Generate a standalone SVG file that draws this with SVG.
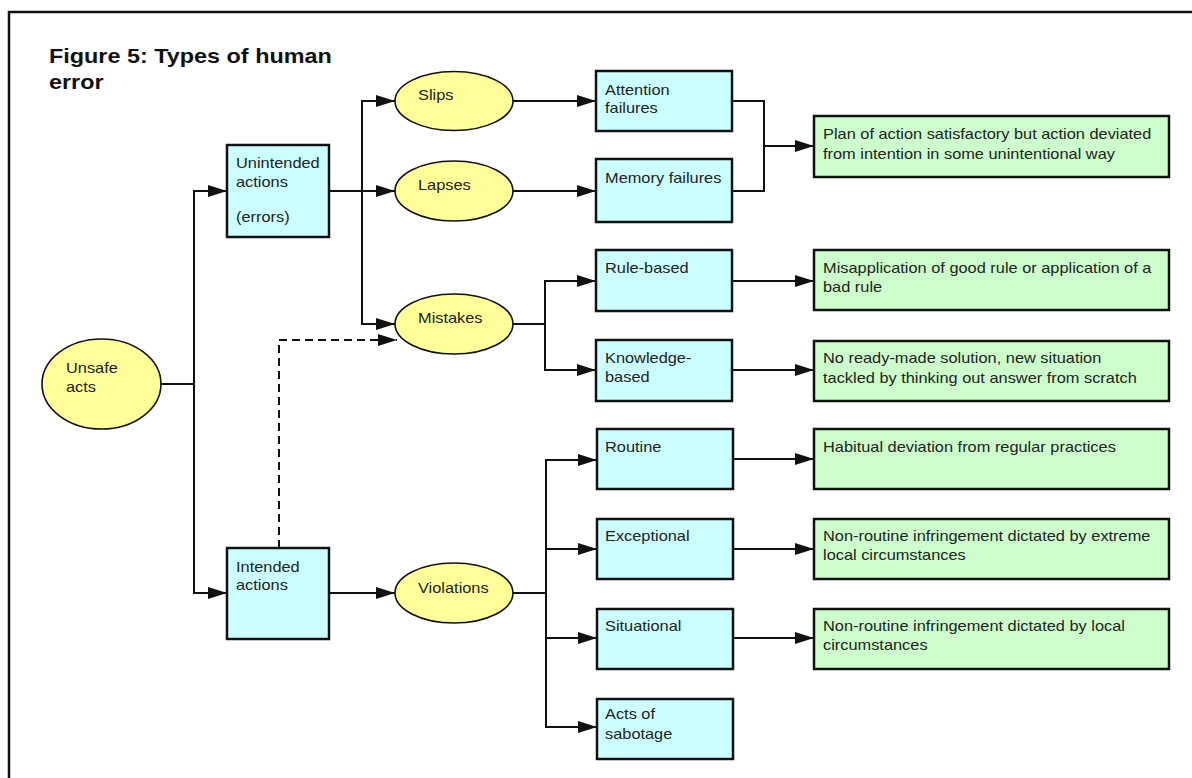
<svg xmlns="http://www.w3.org/2000/svg" width="1192" height="778" viewBox="0 0 1192 778">
  <style>
    .frame { fill: none; stroke: #111; stroke-width: 2.5; }
    .box { stroke: #111; stroke-width: 2.5; }
    .blue { fill: #ccffff; }
    .green { fill: #ccffcc; }
    .oval { fill: #ffff99; stroke: #111; stroke-width: 1.6; }
    .lbl { font-family: "Liberation Sans", Arial, sans-serif; font-size: 14px; fill: #222; }
    .title { font-family: "Liberation Sans", Arial, sans-serif; font-size: 20px; font-weight: bold; fill: #111; }
    .wire { fill: none; stroke: #111; stroke-width: 2; }
    .arrow { marker-end: url(#head); }
    .dash { stroke-dasharray: 8 5; }
  </style>
  <defs>
    <marker id="head" markerUnits="userSpaceOnUse" markerWidth="19" markerHeight="12" refX="19" refY="6" orient="auto">
      <path d="M0,0 L19,6 L0,12 z" fill="#111"/>
    </marker>
  </defs>

  <rect width="1192" height="778" fill="#ffffff"/>
  <!-- page frame (top and left rules) -->
  <path class="frame" d="M9,778 V12 H1192"/>

  <g id="title">
    <text class="title" transform="matrix(1.17 0 0 1 49 63)">Figure 5: Types of human</text>
    <text class="title" transform="matrix(1.17 0 0 1 49 89)">error</text>
  </g>

  <g id="connectors">
    <path class="wire" d="M161,384 H194"/>
    <path class="wire arrow" d="M194,384 V191 H227"/>
    <path class="wire arrow" d="M194,384 V593 H227"/>
    <path class="wire arrow" d="M329,191 H395"/>
    <path class="wire arrow" d="M362,191 V101 H395"/>
    <path class="wire arrow" d="M362,191 V324 H395"/>
    <path class="wire dash arrow" d="M279,548 V340 H397"/>
    <path class="wire arrow" d="M513,101 H596"/>
    <path class="wire arrow" d="M513,191 H596"/>
    <path class="wire" d="M732,101 H764 V191 H732"/>
    <path class="wire arrow" d="M764,146 H814"/>
    <path class="wire" d="M513,324 H545"/>
    <path class="wire arrow" d="M545,324 V281 H596"/>
    <path class="wire arrow" d="M545,324 V370 H596"/>
    <path class="wire arrow" d="M732,281 H814"/>
    <path class="wire arrow" d="M732,370 H814"/>
    <path class="wire arrow" d="M329,593 H395"/>
    <path class="wire" d="M513,593 H546"/>
    <path class="wire arrow" d="M546,593 V460 H597"/>
    <path class="wire arrow" d="M546,549 H597"/>
    <path class="wire arrow" d="M546,593 V727 H597"/>
    <path class="wire arrow" d="M546,638 H597"/>
    <path class="wire arrow" d="M733,459 H814"/>
    <path class="wire arrow" d="M733,549 H814"/>
    <path class="wire arrow" d="M733,638 H814"/>
  </g>

  <g id="unsafe-acts">
    <ellipse class="oval" cx="101.5" cy="384" rx="59.5" ry="45"/>
    <text class="lbl" transform="matrix(1.17 0 0 1 66 373)">Unsafe</text>
    <text class="lbl" transform="matrix(1.17 0 0 1 66 392)">acts</text>
  </g>

  <g id="unintended-actions">
    <rect class="box blue" x="227" y="145" width="102" height="92"/>
    <text class="lbl" transform="matrix(1.17 0 0 1 236 168)">Unintended</text>
    <text class="lbl" transform="matrix(1.17 0 0 1 236 187)">actions</text>
    <text class="lbl" transform="matrix(1.17 0 0 1 236 222)">(errors)</text>
  </g>

  <g id="intended-actions">
    <rect class="box blue" x="227" y="548" width="102" height="91"/>
    <text class="lbl" transform="matrix(1.17 0 0 1 236 572)">Intended</text>
    <text class="lbl" transform="matrix(1.17 0 0 1 236 590)">actions</text>
  </g>

  <g id="slips">
    <ellipse class="oval" cx="454" cy="101" rx="59" ry="29.5"/>
    <text class="lbl" transform="matrix(1.17 0 0 1 418 100)">Slips</text>
  </g>

  <g id="lapses">
    <ellipse class="oval" cx="454" cy="191" rx="59" ry="30"/>
    <text class="lbl" transform="matrix(1.17 0 0 1 418 190)">Lapses</text>
  </g>

  <g id="mistakes">
    <ellipse class="oval" cx="454" cy="324" rx="59" ry="30"/>
    <text class="lbl" transform="matrix(1.17 0 0 1 418 323)">Mistakes</text>
  </g>

  <g id="violations">
    <ellipse class="oval" cx="454" cy="593" rx="59" ry="30"/>
    <text class="lbl" transform="matrix(1.17 0 0 1 418 593)">Violations</text>
  </g>

  <g id="attention-failures">
    <rect class="box blue" x="596" y="71" width="136" height="60"/>
    <text class="lbl" transform="matrix(1.17 0 0 1 605 95)">Attention</text>
    <text class="lbl" transform="matrix(1.17 0 0 1 605 113)">failures</text>
  </g>

  <g id="memory-failures">
    <rect class="box blue" x="596" y="159" width="136" height="63"/>
    <text class="lbl" transform="matrix(1.17 0 0 1 605 183)">Memory failures</text>
  </g>

  <g id="rule-based">
    <rect class="box blue" x="596" y="250" width="136" height="61"/>
    <text class="lbl" transform="matrix(1.17 0 0 1 605 273)">Rule-based</text>
  </g>

  <g id="knowledge-based">
    <rect class="box blue" x="596" y="340" width="136" height="61"/>
    <text class="lbl" transform="matrix(1.17 0 0 1 605 363)">Knowledge-</text>
    <text class="lbl" transform="matrix(1.17 0 0 1 605 382)">based</text>
  </g>

  <g id="routine">
    <rect class="box blue" x="597" y="429" width="136" height="60"/>
    <text class="lbl" transform="matrix(1.17 0 0 1 605 452)">Routine</text>
  </g>

  <g id="exceptional">
    <rect class="box blue" x="597" y="519" width="136" height="60"/>
    <text class="lbl" transform="matrix(1.17 0 0 1 605 541)">Exceptional</text>
  </g>

  <g id="situational">
    <rect class="box blue" x="597" y="609" width="136" height="60"/>
    <text class="lbl" transform="matrix(1.17 0 0 1 605 631)">Situational</text>
  </g>

  <g id="sabotage">
    <rect class="box blue" x="597" y="699" width="136" height="60"/>
    <text class="lbl" transform="matrix(1.17 0 0 1 605 719)">Acts of</text>
    <text class="lbl" transform="matrix(1.17 0 0 1 605 739)">sabotage</text>
  </g>

  <g id="desc-slips-lapses">
    <rect class="box green" x="814" y="116" width="355" height="61"/>
    <text class="lbl" transform="matrix(1.17 0 0 1 823 139)">Plan of action satisfactory but action deviated</text>
    <text class="lbl" transform="matrix(1.17 0 0 1 823 159)">from intention in some unintentional way</text>
  </g>

  <g id="desc-rule-based">
    <rect class="box green" x="814" y="250" width="355" height="60"/>
    <text class="lbl" transform="matrix(1.17 0 0 1 823 273)">Misapplication of good rule or application of a</text>
    <text class="lbl" transform="matrix(1.17 0 0 1 823 292)">bad rule</text>
  </g>

  <g id="desc-knowledge-based">
    <rect class="box green" x="814" y="341" width="355" height="60"/>
    <text class="lbl" transform="matrix(1.17 0 0 1 823 363)">No ready-made solution, new situation</text>
    <text class="lbl" transform="matrix(1.17 0 0 1 823 383)">tackled by thinking out answer from scratch</text>
  </g>

  <g id="desc-routine">
    <rect class="box green" x="814" y="429" width="355" height="60"/>
    <text class="lbl" transform="matrix(1.17 0 0 1 823 452)">Habitual deviation from regular practices</text>
  </g>

  <g id="desc-exceptional">
    <rect class="box green" x="814" y="519" width="355" height="60"/>
    <text class="lbl" transform="matrix(1.17 0 0 1 823 541)">Non-routine infringement dictated by extreme</text>
    <text class="lbl" transform="matrix(1.17 0 0 1 823 560)">local circumstances</text>
  </g>

  <g id="desc-situational">
    <rect class="box green" x="814" y="609" width="355" height="60"/>
    <text class="lbl" transform="matrix(1.17 0 0 1 823 631)">Non-routine infringement dictated by local</text>
    <text class="lbl" transform="matrix(1.17 0 0 1 823 650)">circumstances</text>
  </g>
</svg>
